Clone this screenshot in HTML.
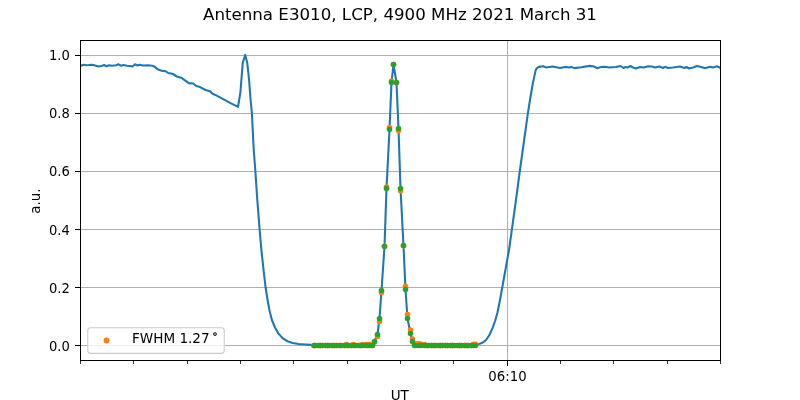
<!DOCTYPE html>
<html lang="en"><head><meta charset="utf-8"><title>Antenna E3010, LCP, 4900 MHz 2021 March 31</title>
<style>
html,body{margin:0;padding:0;background:#ffffff;}
body{width:800px;height:400px;overflow:hidden;position:relative;font-family:"DejaVu Sans","Liberation Sans",sans-serif;}
</style></head>
<body>
<svg width="800" height="400" viewBox="0 0 800 400" style="display:block;position:absolute;left:0;top:0;will-change:transform">
<rect width="800" height="400" fill="#ffffff"/>
<g fill="#b0b0b0" shape-rendering="crispEdges"><rect x="81" y="345" width="639" height="1"/><rect x="81" y="287" width="639" height="1"/><rect x="81" y="229" width="639" height="1"/><rect x="81" y="171" width="639" height="1"/><rect x="81" y="113" width="639" height="1"/><rect x="81" y="55" width="639" height="1"/><rect x="507" y="41" width="1" height="319"/></g>
<clipPath id="ax"><rect x="80" y="40" width="641" height="321"/></clipPath>
<g clip-path="url(#ax)">
<path d="M80.50,65.90 L81.00,65.80 L83.50,64.80 L86.00,65.20 L89.00,65.00 L92.00,64.70 L95.00,65.50 L99.00,66.50 L102.00,65.80 L104.30,65.00 L106.50,66.30 L109.00,65.30 L112.00,65.70 L116.00,65.30 L118.50,64.30 L121.00,65.70 L123.50,65.00 L127.00,65.70 L130.00,66.00 L132.50,66.50 L135.00,64.30 L137.50,65.50 L139.50,64.80 L143.00,65.50 L148.00,65.20 L152.00,65.80 L154.50,66.60 L158.10,69.60 L162.50,70.90 L165.60,71.25 L168.10,72.90 L172.50,73.75 L176.90,76.50 L181.90,78.10 L188.75,83.10 L193.10,83.50 L196.25,86.00 L200.00,87.10 L205.60,90.00 L210.00,91.25 L212.50,93.75 L216.25,95.40 L225.00,100.10 L231.00,103.30 L238.00,106.90 L240.40,92.50 L242.75,62.75 L245.20,54.90 L247.25,62.75 L249.10,80.00 L250.60,100.00 L251.90,113.10 L253.75,150.00 L255.40,171.50 L257.30,200.00 L259.60,229.40 L261.40,250.00 L263.50,269.50 L265.60,287.50 L267.60,300.00 L269.40,310.00 L271.90,320.00 L275.00,327.50 L278.10,333.10 L282.50,338.10 L287.50,341.25 L292.50,342.90 L298.75,344.00 L305.00,344.50 L311.25,344.90 L320.00,345.20 L372.00,345.20 L374.50,341.50 L377.50,334.50 L379.50,318.50 L381.50,290.50 L384.50,246.50 L386.50,188.50 L389.50,129.50 L391.50,82.50 L393.50,64.50 L396.50,82.50 L398.50,128.50 L400.50,188.50 L403.50,245.50 L405.50,289.50 L407.50,318.50 L410.50,333.50 L412.50,341.50 L414.50,344.60 L418.00,345.20 L475.00,345.20 L478.10,344.40 L482.50,342.75 L486.25,339.75 L489.40,335.00 L492.50,328.10 L495.00,321.25 L497.50,312.50 L500.00,300.00 L502.25,287.50 L505.60,269.00 L509.00,250.00 L511.90,229.40 L516.00,200.00 L519.75,171.50 L522.75,150.00 L527.90,113.10 L530.00,100.00 L532.75,83.75 L535.60,70.60 L536.90,68.10 L538.75,66.90 L543.10,66.25 L546.25,67.50 L552.50,66.50 L560.00,67.90 L565.00,66.90 L569.40,67.50 L571.25,66.90 L574.40,68.10 L581.25,67.25 L590.00,65.90 L594.00,66.50 L597.00,68.20 L601.00,67.00 L605.00,66.80 L609.00,67.50 L616.00,67.00 L620.50,66.00 L623.50,68.00 L625.50,67.00 L627.50,67.50 L630.50,66.00 L633.00,67.50 L636.00,68.50 L640.00,67.00 L644.00,67.50 L648.00,66.30 L652.00,66.50 L655.00,67.50 L659.50,66.50 L663.00,68.00 L665.00,66.80 L668.00,68.00 L673.00,67.50 L680.00,66.50 L684.50,68.00 L686.50,67.00 L689.00,68.50 L693.00,67.50 L697.00,66.00 L701.00,67.00 L705.00,68.20 L710.00,66.80 L713.00,67.50 L717.00,66.30 L720.50,68.00" fill="none" stroke="#1f77b4" stroke-width="2.08" stroke-linejoin="round" stroke-linecap="square"/>
<g fill="#ff7f0e"><circle cx="314.0" cy="345.5" r="2.78"/><circle cx="315.5" cy="345.5" r="2.78"/><circle cx="318.5" cy="345.5" r="2.78"/><circle cx="320.5" cy="345.5" r="2.78"/><circle cx="322.5" cy="345.5" r="2.78"/><circle cx="325.5" cy="345.5" r="2.78"/><circle cx="327.5" cy="345.5" r="2.78"/><circle cx="329.5" cy="345.5" r="2.78"/><circle cx="332.5" cy="345.5" r="2.78"/><circle cx="334.5" cy="345.5" r="2.78"/><circle cx="336.5" cy="345.5" r="2.78"/><circle cx="339.5" cy="345.5" r="2.78"/><circle cx="341.5" cy="345.5" r="2.78"/><circle cx="344.5" cy="345.5" r="2.78"/><circle cx="346.5" cy="344.5" r="2.78"/><circle cx="348.5" cy="345.5" r="2.78"/><circle cx="351.5" cy="345.5" r="2.78"/><circle cx="353.5" cy="344.5" r="2.78"/><circle cx="355.5" cy="345.5" r="2.78"/><circle cx="358.5" cy="345.5" r="2.78"/><circle cx="360.5" cy="345.5" r="2.78"/><circle cx="362.5" cy="344.5" r="2.78"/><circle cx="365.5" cy="344.5" r="2.78"/><circle cx="367.5" cy="344.5" r="2.78"/><circle cx="369.5" cy="344.5" r="2.78"/><circle cx="372.5" cy="345.5" r="2.78"/><circle cx="374.5" cy="342.3" r="2.78"/><circle cx="377.5" cy="336.5" r="2.78"/><circle cx="379.5" cy="321.5" r="2.78"/><circle cx="381.5" cy="292.5" r="2.78"/><circle cx="384.5" cy="246.2" r="2.78"/><circle cx="386.5" cy="187.0" r="2.78"/><circle cx="389.5" cy="127.5" r="2.78"/><circle cx="391.5" cy="81.0" r="2.78"/><circle cx="393.5" cy="64.5" r="2.78"/><circle cx="396.5" cy="82.8" r="2.78"/><circle cx="398.5" cy="130.8" r="2.78"/><circle cx="400.5" cy="190.8" r="2.78"/><circle cx="403.5" cy="246.0" r="2.78"/><circle cx="405.5" cy="286.2" r="2.78"/><circle cx="407.5" cy="314.5" r="2.78"/><circle cx="410.5" cy="330.0" r="2.78"/><circle cx="412.5" cy="339.0" r="2.78"/><circle cx="414.5" cy="343.8" r="2.78"/><circle cx="417.5" cy="343.8" r="2.78"/><circle cx="419.5" cy="343.8" r="2.78"/><circle cx="421.5" cy="344.5" r="2.78"/><circle cx="424.5" cy="344.5" r="2.78"/><circle cx="426.5" cy="345.5" r="2.78"/><circle cx="428.5" cy="345.5" r="2.78"/><circle cx="431.5" cy="345.5" r="2.78"/><circle cx="433.5" cy="345.5" r="2.78"/><circle cx="435.5" cy="345.5" r="2.78"/><circle cx="438.5" cy="345.5" r="2.78"/><circle cx="440.5" cy="345.5" r="2.78"/><circle cx="442.5" cy="345.5" r="2.78"/><circle cx="445.5" cy="345.5" r="2.78"/><circle cx="447.5" cy="345.5" r="2.78"/><circle cx="450.5" cy="345.5" r="2.78"/><circle cx="452.5" cy="345.5" r="2.78"/><circle cx="454.5" cy="345.5" r="2.78"/><circle cx="457.5" cy="345.5" r="2.78"/><circle cx="459.5" cy="345.5" r="2.78"/><circle cx="461.5" cy="345.5" r="2.78"/><circle cx="464.5" cy="345.5" r="2.78"/><circle cx="466.5" cy="345.5" r="2.78"/><circle cx="468.5" cy="345.5" r="2.78"/><circle cx="471.5" cy="345.5" r="2.78"/><circle cx="473.5" cy="344.2" r="2.78"/><circle cx="475.5" cy="344.2" r="2.78"/></g>
<g fill="#2ca02c"><circle cx="314.0" cy="345.5" r="2.78"/><circle cx="315.5" cy="345.5" r="2.78"/><circle cx="318.5" cy="345.5" r="2.78"/><circle cx="320.5" cy="345.5" r="2.78"/><circle cx="322.5" cy="345.5" r="2.78"/><circle cx="325.5" cy="345.5" r="2.78"/><circle cx="327.5" cy="345.5" r="2.78"/><circle cx="329.5" cy="345.5" r="2.78"/><circle cx="332.5" cy="345.5" r="2.78"/><circle cx="334.5" cy="345.5" r="2.78"/><circle cx="336.5" cy="345.5" r="2.78"/><circle cx="339.5" cy="345.5" r="2.78"/><circle cx="341.5" cy="345.5" r="2.78"/><circle cx="344.5" cy="345.5" r="2.78"/><circle cx="346.5" cy="345.5" r="2.78"/><circle cx="348.5" cy="345.5" r="2.78"/><circle cx="351.5" cy="345.5" r="2.78"/><circle cx="353.5" cy="345.5" r="2.78"/><circle cx="355.5" cy="345.5" r="2.78"/><circle cx="358.5" cy="345.5" r="2.78"/><circle cx="360.5" cy="345.5" r="2.78"/><circle cx="362.5" cy="345.5" r="2.78"/><circle cx="365.5" cy="345.5" r="2.78"/><circle cx="367.5" cy="345.5" r="2.78"/><circle cx="369.5" cy="345.5" r="2.78"/><circle cx="372.5" cy="345.5" r="2.78"/><circle cx="374.5" cy="341.5" r="2.78"/><circle cx="377.5" cy="334.5" r="2.78"/><circle cx="379.5" cy="318.5" r="2.78"/><circle cx="381.5" cy="290.5" r="2.78"/><circle cx="384.5" cy="246.5" r="2.78"/><circle cx="386.5" cy="188.5" r="2.78"/><circle cx="389.5" cy="129.5" r="2.78"/><circle cx="391.5" cy="82.5" r="2.78"/><circle cx="393.5" cy="64.5" r="2.78"/><circle cx="396.5" cy="82.5" r="2.78"/><circle cx="398.5" cy="128.5" r="2.78"/><circle cx="400.5" cy="188.5" r="2.78"/><circle cx="403.5" cy="245.5" r="2.78"/><circle cx="405.5" cy="289.5" r="2.78"/><circle cx="407.5" cy="318.5" r="2.78"/><circle cx="410.5" cy="333.5" r="2.78"/><circle cx="412.5" cy="341.5" r="2.78"/><circle cx="414.5" cy="345.5" r="2.78"/><circle cx="417.5" cy="345.5" r="2.78"/><circle cx="419.5" cy="345.5" r="2.78"/><circle cx="421.5" cy="345.5" r="2.78"/><circle cx="424.5" cy="345.5" r="2.78"/><circle cx="426.5" cy="345.5" r="2.78"/><circle cx="428.5" cy="345.5" r="2.78"/><circle cx="431.5" cy="345.5" r="2.78"/><circle cx="433.5" cy="345.5" r="2.78"/><circle cx="435.5" cy="345.5" r="2.78"/><circle cx="438.5" cy="345.5" r="2.78"/><circle cx="440.5" cy="345.5" r="2.78"/><circle cx="442.5" cy="345.5" r="2.78"/><circle cx="445.5" cy="345.5" r="2.78"/><circle cx="447.5" cy="345.5" r="2.78"/><circle cx="450.5" cy="345.5" r="2.78"/><circle cx="452.5" cy="345.5" r="2.78"/><circle cx="454.5" cy="345.5" r="2.78"/><circle cx="457.5" cy="345.5" r="2.78"/><circle cx="459.5" cy="345.5" r="2.78"/><circle cx="461.5" cy="345.5" r="2.78"/><circle cx="464.5" cy="345.5" r="2.78"/><circle cx="466.5" cy="345.5" r="2.78"/><circle cx="468.5" cy="345.5" r="2.78"/><circle cx="471.5" cy="345.5" r="2.78"/><circle cx="473.5" cy="345.5" r="2.78"/><circle cx="475.5" cy="345.5" r="2.78"/></g>
</g>
<g fill="#000000" shape-rendering="crispEdges">
<rect x="80" y="40" width="641" height="1"/>
<rect x="80" y="360" width="641" height="1"/>
<rect x="80" y="40" width="1" height="321"/>
<rect x="720" y="40" width="1" height="321"/>
<rect x="75.2" y="345" width="5.3" height="1"/><rect x="75.2" y="287" width="5.3" height="1"/><rect x="75.2" y="229" width="5.3" height="1"/><rect x="75.2" y="171" width="5.3" height="1"/><rect x="75.2" y="113" width="5.3" height="1"/><rect x="75.2" y="55" width="5.3" height="1"/><rect x="507" y="361" width="1" height="4.6"/>
</g>
<g fill="#000000" fill-opacity="0.8" shape-rendering="crispEdges"><rect x="80" y="361" width="1" height="2.6"/><rect x="133" y="361" width="1" height="2.6"/><rect x="187" y="361" width="1" height="2.6"/><rect x="240" y="361" width="1" height="2.6"/><rect x="293" y="361" width="1" height="2.6"/><rect x="347" y="361" width="1" height="2.6"/><rect x="400" y="361" width="1" height="2.6"/><rect x="453" y="361" width="1" height="2.6"/><rect x="560" y="361" width="1" height="2.6"/><rect x="613" y="361" width="1" height="2.6"/><rect x="667" y="361" width="1" height="2.6"/><rect x="720" y="361" width="1" height="2.6"/></g>
<g font-family="'DejaVu Sans','Liberation Sans',sans-serif" font-size="13.89px" fill="#000000">
<text transform="translate(69.9,350.85) scale(0.945,1)" text-anchor="end">0.0</text><text transform="translate(69.9,292.85) scale(0.945,1)" text-anchor="end">0.2</text><text transform="translate(69.9,234.85) scale(0.945,1)" text-anchor="end">0.4</text><text transform="translate(69.9,175.80) scale(0.945,1)" text-anchor="end">0.6</text><text transform="translate(69.9,117.80) scale(0.945,1)" text-anchor="end">0.8</text><text transform="translate(69.9,59.80) scale(0.945,1)" text-anchor="end">1.0</text>
<text transform="translate(507.5,380.6) scale(0.958,1)" text-anchor="middle">06:10</text>
<text transform="translate(399.8,400.4) scale(0.975,1)" text-anchor="middle">UT</text>
<text transform="translate(39.6,201.2) rotate(-90) scale(0.965,1)" text-anchor="middle">a.u.</text>
</g>
<text x="400" y="19.6" text-anchor="middle" font-family="'DejaVu Sans','Liberation Sans',sans-serif" font-size="16.67px" fill="#000000">Antenna E3010, LCP, 4900 MHz 2021 March 31</text>
<g>
<rect x="87.75" y="327.75" width="136.5" height="25.6" rx="2.8" ry="2.8" fill="#ffffff" fill-opacity="0.8" stroke="#cccccc" stroke-width="1.1"/>
<circle cx="106.5" cy="340.5" r="2.9" fill="#ff7f0e"/>
<text transform="translate(132.0,343.2) scale(0.977,1)" font-family="'DejaVu Sans','Liberation Sans',sans-serif" font-size="13.89px" fill="#000000">FWHM 1.27</text>
<text x="215.0" y="336.9" text-anchor="middle" font-family="'DejaVu Sans','Liberation Sans',sans-serif" font-size="9.7px" fill="#000000" stroke="#000000" stroke-width="0.45" stroke-opacity="0.75">∘</text>
</g>
</svg>
</body></html>
